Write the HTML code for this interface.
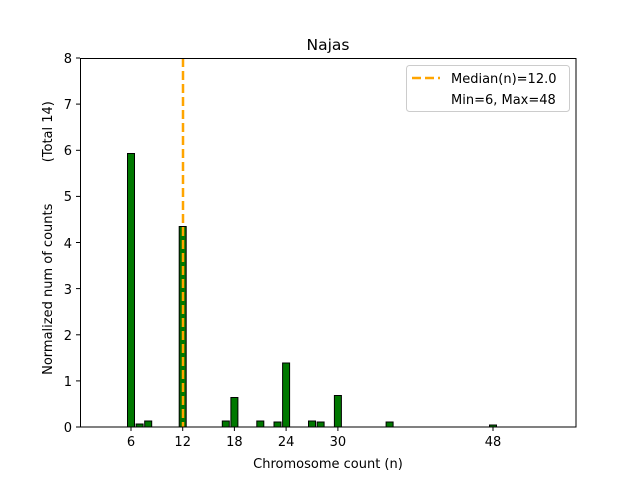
<!DOCTYPE html>
<html><head><meta charset="utf-8"><style>body{margin:0;background:#fff}svg{display:block}text{font-family:"DejaVu Sans","Liberation Sans",sans-serif;font-size:13px;fill:#000}</style></head>
<body>
<svg width="640" height="480" viewBox="0 0 640 480">
<rect width="640" height="480" fill="#fff"/>
<g fill="#007800" stroke="#000" stroke-width="1">
<rect x="127.5" y="153.5" width="7" height="273.5"/>
<rect x="136.1" y="424" width="7" height="3"/>
<rect x="144.7" y="421" width="7" height="6"/>
<rect x="179.2" y="226.5" width="7" height="200.5"/>
<rect x="222.3" y="421" width="7" height="6"/>
<rect x="230.9" y="397.5" width="7" height="29.5"/>
<rect x="256.8" y="421" width="7" height="6"/>
<rect x="274.0" y="422" width="7" height="5"/>
<rect x="282.6" y="363" width="7" height="64"/>
<rect x="308.5" y="421" width="7" height="6"/>
<rect x="317.1" y="422" width="7" height="5"/>
<rect x="334.4" y="395.5" width="7" height="31.5"/>
<rect x="386.1" y="422" width="7" height="5"/>
<rect x="489.5" y="425" width="7" height="2"/>
</g>
<line x1="183" y1="58" x2="183" y2="427" stroke="#ffa500" stroke-width="2.5" stroke-dasharray="9,4"/>
<g stroke="#000" stroke-width="1" fill="none">
<rect x="80.5" y="58.5" width="495.5" height="368.5"/>
</g>
<g stroke="#000" stroke-width="1">
<line x1="76" y1="427" x2="80" y2="427"/><line x1="76" y1="380.9" x2="80" y2="380.9"/><line x1="76" y1="334.8" x2="80" y2="334.8"/><line x1="76" y1="288.6" x2="80" y2="288.6"/><line x1="76" y1="242.5" x2="80" y2="242.5"/><line x1="76" y1="196.4" x2="80" y2="196.4"/><line x1="76" y1="150.3" x2="80" y2="150.3"/><line x1="76" y1="104.1" x2="80" y2="104.1"/><line x1="76" y1="58" x2="80" y2="58"/>
<line x1="131" y1="427" x2="131" y2="431"/><line x1="182.7" y1="427" x2="182.7" y2="431"/><line x1="234.4" y1="427" x2="234.4" y2="431"/><line x1="286.1" y1="427" x2="286.1" y2="431"/><line x1="337.9" y1="427" x2="337.9" y2="431"/><line x1="493" y1="427" x2="493" y2="431"/>
</g>
<g text-anchor="middle">
<text x="72" y="432" text-anchor="end">0</text><text x="72" y="386" text-anchor="end">1</text><text x="72" y="340" text-anchor="end">2</text><text x="72" y="294" text-anchor="end">3</text><text x="72" y="248" text-anchor="end">4</text><text x="72" y="201" text-anchor="end">5</text><text x="72" y="155" text-anchor="end">6</text><text x="72" y="109" text-anchor="end">7</text><text x="72" y="63" text-anchor="end">8</text>
<text x="131" y="446">6</text><text x="182.7" y="446">12</text><text x="234.4" y="446">18</text><text x="286.1" y="446">24</text><text x="337.9" y="446">30</text><text x="493" y="446">48</text>
<text x="328" y="468">Chromosome count (n)</text>
<text x="328" y="50" style="font-size:15.5px">Najas</text>
<text transform="translate(52,238) rotate(-90)" style="white-space:pre" xml:space="preserve">Normalized num of counts          (Total 14)</text>
</g>
<rect x="406.5" y="65.5" width="163" height="46" rx="3" fill="#fff" stroke="#ccc"/>
<line x1="412" y1="78" x2="440" y2="78" stroke="#ffa500" stroke-width="2.5" stroke-dasharray="9,4"/>
<text x="451" y="83">Median(n)=12.0</text>
<text x="451" y="104">Min=6, Max=48</text>
</svg>
</body></html>
